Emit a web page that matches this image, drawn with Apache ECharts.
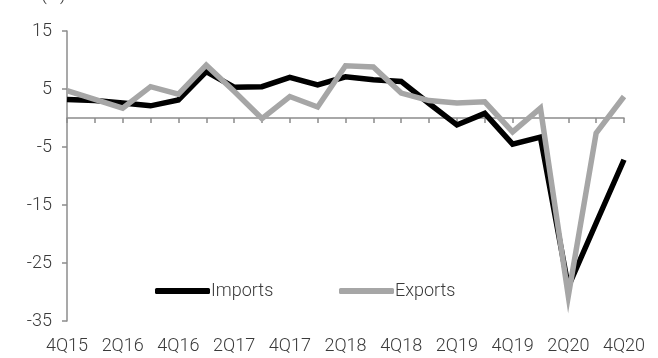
<!DOCTYPE html>
<html>
<head>
<meta charset="utf-8">
<script src="https://cdn.jsdelivr.net/npm/echarts@6/dist/echarts.min.js"></script>
<style>html,body{margin:0;padding:0;background:#fff}#c{width:658px;height:358px}</style>
</head>
<body>
<div id="c"></div>
<script>
const categories = ['4Q15','1Q16','2Q16','3Q16','4Q16','1Q17','2Q17','3Q17','4Q17','1Q18','2Q18','3Q18','4Q18','1Q19','2Q19','3Q19','4Q19','1Q20','2Q20','3Q20','4Q20'];
const imports = [3.2, 3.0, 2.6, 2.1, 3.1, 8.0, 5.3, 5.4, 7.0, 5.7, 7.1, 6.6, 6.3, 2.5, -1.2, 0.8, -4.5, -3.3, -29.1, -18.1, -7.2];
const exports = [4.7, 3.2, 1.7, 5.4, 4.1, 9.1, 4.6, -0.1, 3.7, 1.9, 9.0, 8.8, 4.3, 3.0, 2.6, 2.8, -2.4, 1.7, -30.7, -2.6, 3.7];
const yTicks = {min: -35, max: 15, interval: 10};
const unitLabel = '(%)';

const font = 'Roboto';
const fs = 18;
const txt = '#3a3a3a';
const axisCol = '#8c8c8c';
const chart = echarts.init(document.getElementById('c'));
chart.setOption({
  animation: false,
  title: {text: unitLabel, left: 36, top: -19, textStyle: {fontFamily: font, fontWeight: 300, fontSize: fs, color: txt}},
  grid: {left: 67, right: 34, top: 31, bottom: 37},
  legend: [
    {data: ['Imports'], left: 150, top: 277, itemWidth: 55, itemHeight: 6, icon: 'roundRect',
     textStyle: {fontFamily: font, fontWeight: 300, fontSize: fs, color: txt, padding: [0,0,0,-4]}},
    {data: ['Exports'], left: 334, top: 277, itemWidth: 55, itemHeight: 6, icon: 'roundRect',
     textStyle: {fontFamily: font, fontWeight: 300, fontSize: fs, color: txt, padding: [0,0,0,-4]}}
  ],
  xAxis: [
    {type: 'category', data: categories, boundaryGap: false, position: 'bottom',
     axisLine: {show: false, onZero: false}, axisTick: {show: false},
     axisLabel: {interval: 1, margin: 16, fontFamily: font, fontWeight: 300, fontSize: fs, color: txt}},
    {type: 'category', data: categories, boundaryGap: false, position: 'top',
     axisLine: {show: true, onZero: true, lineStyle: {color: axisCol, width: 1.5}},
     axisTick: {show: true, inside: true, length: 5, interval: 0, lineStyle: {color: axisCol, width: 1.5}},
     axisLabel: {show: false}}
  ],
  yAxis: {type: 'value', min: yTicks.min, max: yTicks.max, interval: yTicks.interval,
    splitLine: {show: false},
    axisLine: {show: true, lineStyle: {color: axisCol, width: 1.5}},
    axisTick: {show: true, length: 5, lineStyle: {color: axisCol, width: 1.5}},
    axisLabel: {margin: 15, fontFamily: font, fontWeight: 300, fontSize: fs, color: txt}},
  series: [
    {name: 'Imports', type: 'line', data: imports, showSymbol: false, symbol: 'none', color: '#000000',
     lineStyle: {width: 5.5, color: '#000000', join: 'miter'}, z: 2},
    {name: 'Exports', type: 'line', data: exports, showSymbol: false, symbol: 'none', color: '#a6a6a6',
     lineStyle: {width: 5.5, color: '#a6a6a6', join: 'miter'}, z: 3}
  ]
});
</script>
</body>
</html>
